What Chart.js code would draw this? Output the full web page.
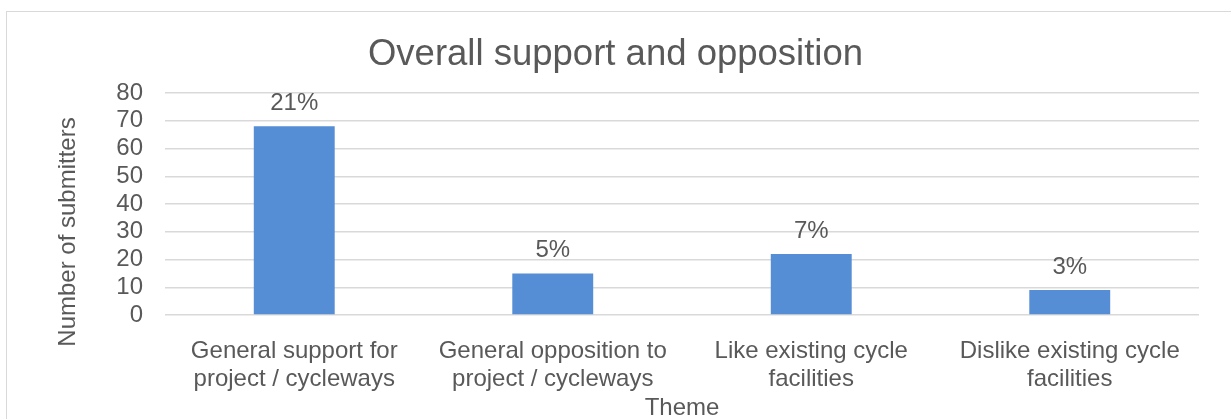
<!DOCTYPE html>
<html>
<head>
<meta charset="utf-8">
<title>Overall support and opposition</title>
<script src="https://cdn.jsdelivr.net/npm/chart.js@4.4.0/dist/chart.umd.min.js"></script>
<style>
  body { margin: 0; background: #fff; overflow: hidden; }
  #frame { position: absolute; left: 6px; top: 11px; width: 1300px; height: 500px; border: 1.5px solid #d9d9d9; }
  #wrap { position: absolute; left: 0; top: 0; width: 1231px; height: 419px; }
</style>
</head>
<body>
<div id="frame"></div>
<div id="wrap"><canvas id="myChart" width="1231" height="419"></canvas></div>
<script>
// themes raised by submitters
const themes = [
    ['General support for', 'project / cycleways'],
    ['General opposition to', 'project / cycleways'],
    ['Like existing cycle', 'facilities'],
    ['Dislike existing cycle', 'facilities']
];
const submitters = [68, 15, 22, 9];
const shareLabels = ['21%', '5%', '7%', '3%'];
const yMax = 80;
const yStep = 10;

const textColor = '#595959';
const fontFamily = "'Liberation Sans', Arial, sans-serif";
Chart.defaults.font.family = fontFamily;
Chart.defaults.color = textColor;

// percentage labels above each bar, plus the y axis title (sits a bit low, like the original)
const labelPlugin = {
    id: 'extraLabels',
    afterDatasetsDraw(chart) {
        const ctx = chart.ctx;
        const meta = chart.getDatasetMeta(0);
        ctx.save();
        ctx.font = '24px ' + fontFamily;
        ctx.fillStyle = textColor;
        ctx.textAlign = 'center';
        ctx.textBaseline = 'middle';
        meta.data.forEach((bar, i) => {
            ctx.fillText(shareLabels[i], bar.x, bar.y - 23);
        });

        const area = chart.chartArea;
        ctx.translate(68, (area.top + area.bottom) / 2 + 28);
        ctx.rotate(-Math.PI / 2);
        ctx.fillText('Number of submitters', 0, 0);
        ctx.restore();
    }
};

const data = {
    labels: themes,
    datasets: [{
        label: 'Number of submitters',
        data: submitters,
        backgroundColor: '#558ed5',
        borderWidth: 0,
        categoryPercentage: 1,
        barPercentage: 0.313
    }]
};

const config = {
    type: 'bar',
    data: data,
    options: {
        responsive: false,
        animation: false,
        devicePixelRatio: 1,
        layout: {
            padding: { left: 32, right: 32, top: 0, bottom: 0 }
        },
        plugins: {
            legend: { display: false },
            tooltip: { enabled: false },
            title: {
                display: true,
                text: 'Overall support and opposition',
                color: textColor,
                font: { size: 36.5, weight: 'normal' },
                padding: { top: 33.1, bottom: 16.1 }
            }
        },
        scales: {
            x: {
                grid: { display: false },
                border: { display: false },
                ticks: {
                    color: textColor,
                    font: { size: 24 },
                    padding: 13.6,
                    maxRotation: 0,
                    autoSkip: false
                },
                title: {
                    display: true,
                    text: 'Theme',
                    color: textColor,
                    font: { size: 24 },
                    padding: { top: 0, bottom: -4 }
                },
                afterFit(scale) { scale.height = 104; }
            },
            y: {
                min: 0,
                max: yMax,
                grid: { color: '#d9d9d9', lineWidth: 1.5, drawTicks: false },
                border: { display: false },
                ticks: {
                    stepSize: yStep,
                    autoSkip: false,
                    color: textColor,
                    font: { size: 24 },
                    padding: 22
                },
                afterFit(scale) { scale.width = 133; }
            }
        }
    },
    plugins: [labelPlugin]
};

const myChart = new Chart(document.getElementById('myChart'), config);
</script>
</body>
</html>
